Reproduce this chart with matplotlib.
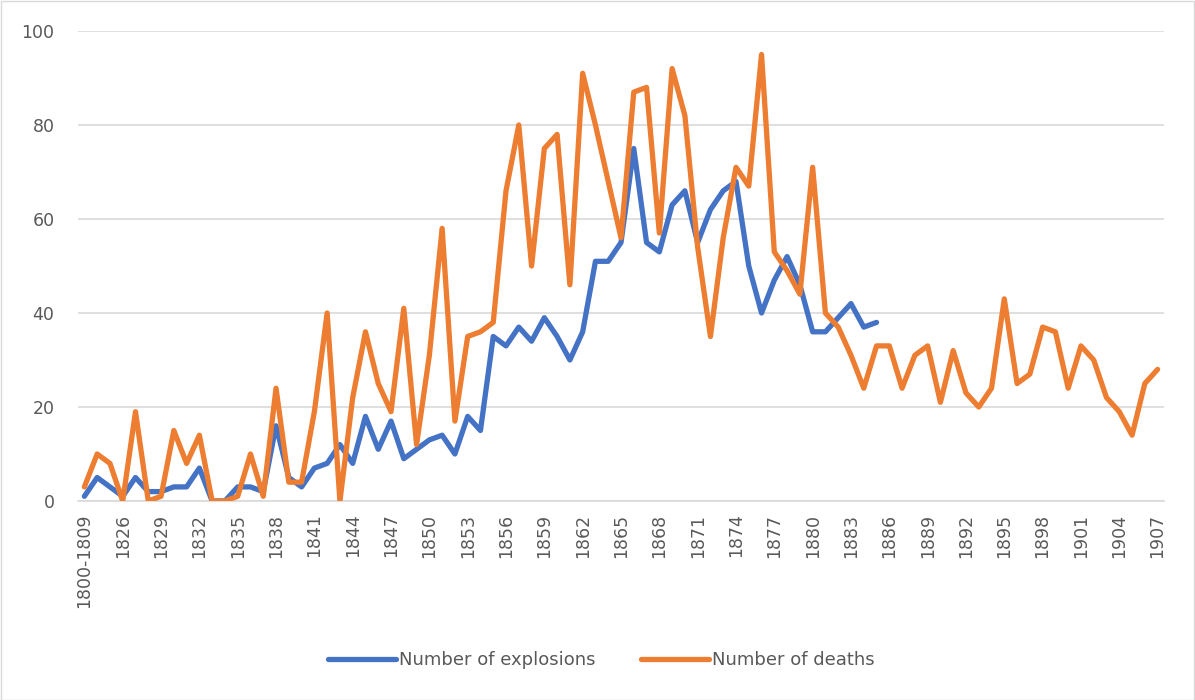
import matplotlib
matplotlib.use("Agg")
import matplotlib.pyplot as plt
from matplotlib.patches import Rectangle

# ----------------- data -----------------
periods = ["1800-1809", "1810-1819", "1820-1825"] + [str(y) for y in range(1826, 1908)]

explosions = [1, 5, 3, 1, 5, 2, 2, 3, 3, 7,
              0, 0, 3, 3, 2, 16, 5, 3, 7, 8,
              12, 8, 18, 11, 17, 9, 11, 13, 14, 10,
              18, 15, 35, 33, 37, 34, 39, 35, 30, 36,
              51, 51, 55, 75, 55, 53, 63, 66, 55, 62,
              66, 68, 50, 40, 47, 52, 46, 36, 36, 39,
              42, 37, 38]

deaths = [3, 10, 8, 0, 19, 0, 1, 15, 8, 14,
          0, 0, 1, 10, 1, 24, 4, 4, 19, 40,
          0, 22, 36, 25, 19, 41, 12, 31, 58, 17,
          35, 36, 38, 66, 80, 50, 75, 78, 46, 91,
          80, 68, 56, 87, 88, 57, 92, 82, 54, 35,
          56, 71, 67, 95, 53, 49, 44, 71, 40, 37,
          31, 24, 33, 33, 24, 31, 33, 21, 32, 23,
          20, 24, 43, 25, 27, 37, 36, 24, 33, 30,
          22, 19, 14, 25, 28]

BLUE = "#4472C4"
ORANGE = "#ED7D31"
GRID = "#d9d9d9"
TEXT = "#595959"

# ----------------- plot -----------------
W, H = 1195, 700
fig = plt.figure(figsize=(W / 100, H / 100), dpi=100)
ax = fig.add_axes([78 / W, 1 - 501 / H, (1164 - 78) / W, (501 - 31) / H])

x_exp = list(range(len(explosions)))
x_dea = list(range(len(deaths)))
ax.plot(x_exp, explosions, color=BLUE, lw=3.8, label="Number of explosions",
        solid_joinstyle="round", solid_capstyle="round", zorder=3)
ax.plot(x_dea, deaths, color=ORANGE, lw=3.8, label="Number of deaths",
        solid_joinstyle="round", solid_capstyle="round", zorder=3)

ax.set_xlim(-0.5, len(periods) - 0.5)
ax.set_ylim(0, 100)
ax.set_yticks(range(0, 101, 20))
tick_idx = list(range(0, len(periods), 3))
ax.set_xticks(tick_idx)
ax.set_xticklabels([periods[i] for i in tick_idx], rotation=90)

ax.grid(axis="y", color=GRID, lw=1.2, zorder=0)
ax.grid(axis="x", visible=False)
for s in ("top", "right", "left"):
    ax.spines[s].set_visible(False)
ax.spines["bottom"].set_color(GRID)
ax.spines["bottom"].set_linewidth(1.2)
ax.tick_params(axis="both", length=0, labelsize=12.5, colors=TEXT)
ax.tick_params(axis="y", pad=17)
ax.tick_params(axis="x", pad=9)

fig.legend(loc="center", bbox_to_anchor=(0.503, 1 - 660 / H), ncol=2,
           frameon=False, fontsize=13, handlelength=3.8, columnspacing=2.5,
           handletextpad=0.15, labelcolor=TEXT)

# chart border
fig.patches.append(Rectangle((0.5 / W, 0.5 / H), 1 - 1.5 / W, 1 - 1.5 / H,
                             transform=fig.transFigure, fill=False,
                             edgecolor=GRID, lw=1))

fig.savefig("out.png", dpi=100)
